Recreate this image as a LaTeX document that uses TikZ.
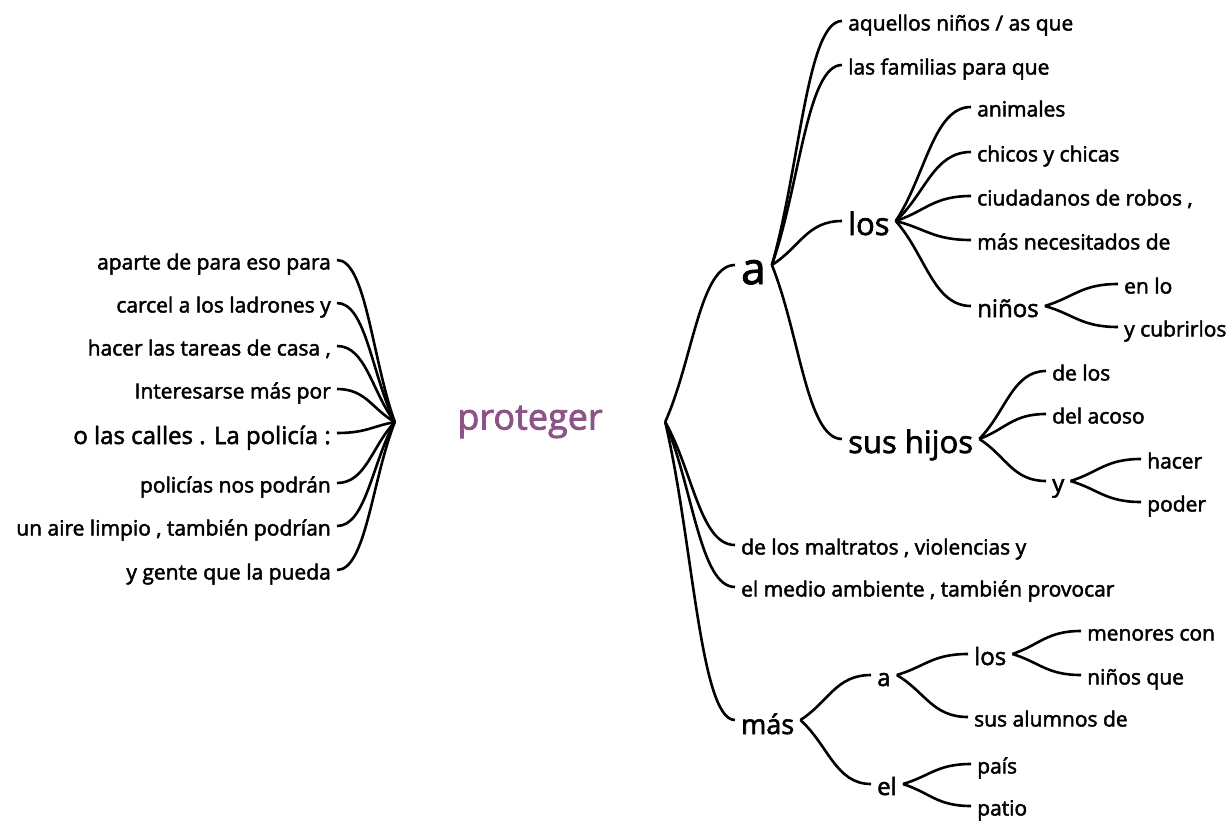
\documentclass[tikz,border=0pt]{standalone}
\usepackage{fontspec}
\setmainfont[FakeBold=2.2,AutoFakeBold=2.2]{Open Sans}
\usetikzlibrary{calc}

\definecolor{purpleword}{RGB}{140,84,134}

\tikzset{
  word/.style={inner xsep=6pt, inner ysep=0pt, text depth=0pt},
  small/.style={word, font=\fontsize{21}{24}\selectfont\bfseries, text height=19pt},
  medium/.style={word, font=\fontsize{24}{28}\selectfont\bfseries, text height=22pt},
  large/.style={word, font=\fontsize{31}{36}\selectfont\bfseries, text height=28pt},
  huge/.style={word, font=\fontsize{44}{50}\selectfont\bfseries, text height=38pt},
  branch/.style={line width=2.6pt, to path={.. controls ($(\tikztostart)!0.4!(\tikztotarget)$)
      and ($(\tikztotarget)!0.5!(\tikztostart|-\tikztotarget)$) .. (\tikztotarget)}}
}

\begin{document}
\begin{tikzpicture}[x=1pt, y=-1pt]
  \useasboundingbox (0,0) rectangle (1229,822);

  \node[font=\fontsize{36}{42}\selectfont\bfseries, text=purpleword, minimum width=270pt, inner sep=0pt] at (530,422) (prot) {proteger};

  % left side
  \node[small, anchor=east] at (337,260) (l1) {aparte de para eso para};
  \node[small, anchor=east] at (337,303) (l2) {carcel a los ladrones y};
  \node[small, anchor=east] at (337,346) (l3) {hacer las tareas de casa ,};
  \node[small, anchor=east] at (337,389) (l4) {Interesarse más por};
  \node[medium, anchor=east] at (337,433) (l5) {o las calles . La policía :};
  \node[small, anchor=east] at (337,483) (l6) {policías nos podrán};
  \node[small, anchor=east] at (337,526) (l7) {un aire limpio , también podrían};
  \node[small, anchor=east] at (337,570) (l8) {y gente que la pueda};

  % right side
  \node[huge, anchor=west] at (735,265) (a) {a};
  \node[small, anchor=west] at (735,545) (malt) {de los maltratos , violencias y};
  \node[small, anchor=west] at (735,587) (medio) {el medio ambiente , también provocar};
  \node[large, anchor=west, font=\fontsize{27}{32}\selectfont\bfseries] at (735,720) (mas) {más};

  \node[small, anchor=west] at (842,21) (aquellos) {aquellos niños / as que};
  \node[small, anchor=west] at (842,65) (familias) {las familias para que};
  \node[large, anchor=west] at (842,221) (los) {los};
  \node[large, anchor=west] at (842,439) (hijos) {sus hijos};

  \node[small, anchor=west] at (971,107) (animales) {animales};
  \node[small, anchor=west] at (971,152) (chicos) {chicos y chicas};
  \node[small, anchor=west] at (971,196) (ciudad) {ciudadanos de robos ,};
  \node[small, anchor=west] at (971,240) (necesit) {más necesitados de};
  \node[medium, anchor=west] at (971,306) (ninos) {niños};
  \node[small, anchor=west] at (1118,284) (enlo) {en lo};
  \node[small, anchor=west] at (1118,327) (cubrir) {y cubrirlos};

  \node[small, anchor=west] at (1046,371) (delos) {de los};
  \node[small, anchor=west] at (1046,414) (acoso) {del acoso};
  \node[medium, anchor=west] at (1046,481) (y) {y};
  \node[small, anchor=west] at (1141,459) (hacer) {hacer};
  \node[small, anchor=west] at (1141,502) (poder) {poder};

  \node[medium, anchor=west] at (871,675) (mas-a) {a};
  \node[medium, anchor=west] at (871,784) (mas-el) {el};
  \node[medium, anchor=west] at (968,654) (mas-los) {los};
  \node[small, anchor=west] at (968,717) (alumnos) {sus alumnos de};
  \node[small, anchor=west] at (1081,631) (menores) {menores con};
  \node[small, anchor=west] at (1081,675) (ninosque) {niños que};
  \node[small, anchor=west] at (971,764) (pais) {país};
  \node[small, anchor=west] at (971,806) (patio) {patio};

  % connectors
  \foreach \n in {l1,l2,l3,l4,l5,l6,l7,l8}
    \draw[branch] (prot.west) to (\n.east);
  \foreach \n in {a,malt,medio,mas}
    \draw[branch] (prot.east) to (\n.west);
  \foreach \n in {aquellos,familias,los,hijos}
    \draw[branch] (a.east) to (\n.west);
  \foreach \n in {animales,chicos,ciudad,necesit,ninos}
    \draw[branch] (los.east) to (\n.west);
  \foreach \n in {enlo,cubrir}
    \draw[branch] (ninos.east) to (\n.west);
  \foreach \n in {delos,acoso,y}
    \draw[branch] (hijos.east) to (\n.west);
  \foreach \n in {hacer,poder}
    \draw[branch] (y.east) to (\n.west);
  \foreach \n in {mas-a,mas-el}
    \draw[branch] (mas.east) to (\n.west);
  \foreach \n in {mas-los,alumnos}
    \draw[branch] (mas-a.east) to (\n.west);
  \foreach \n in {menores,ninosque}
    \draw[branch] (mas-los.east) to (\n.west);
  \foreach \n in {pais,patio}
    \draw[branch] (mas-el.east) to (\n.west);
\end{tikzpicture}
\end{document}
